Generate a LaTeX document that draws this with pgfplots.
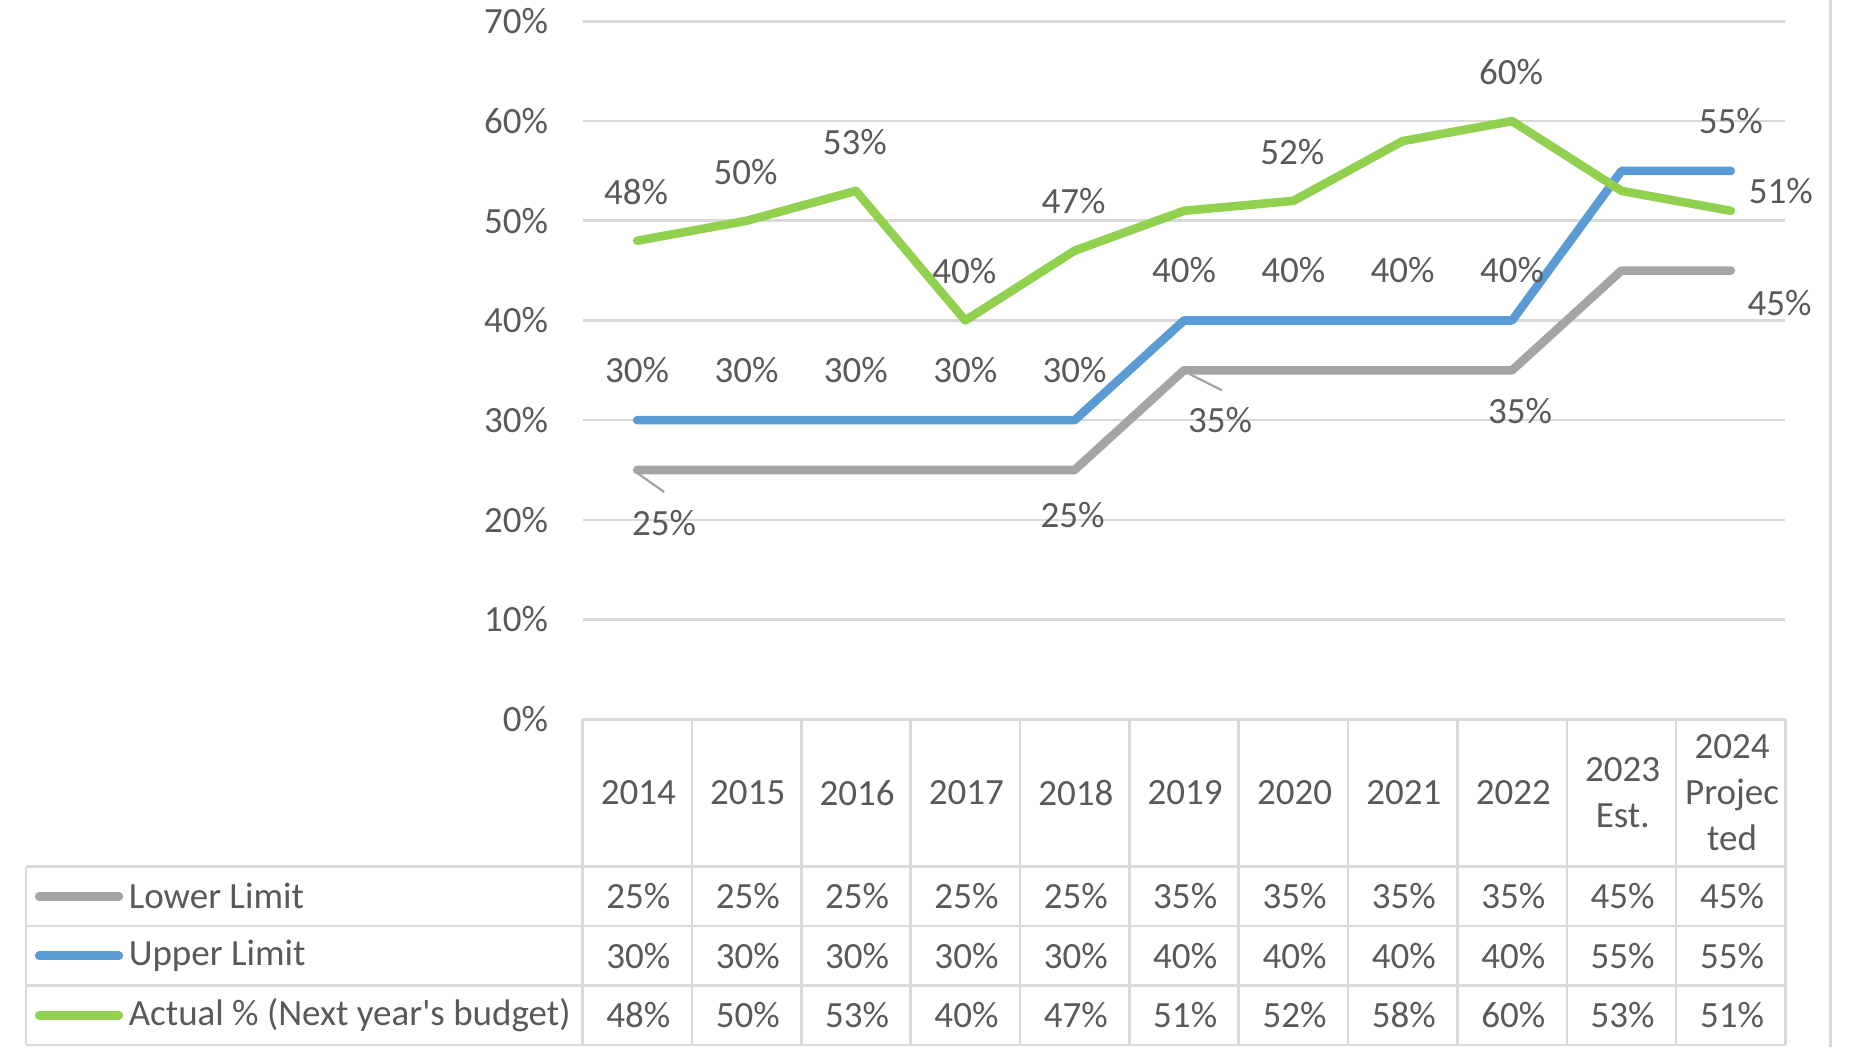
\documentclass[border=0pt]{standalone}
\usepackage{pgfplots}
\pgfplotsset{compat=1.18}
\usepackage{fontspec}
\setmainfont{Carlito}
\definecolor{txt}{HTML}{595959}
\definecolor{gridc}{HTML}{D9D9D9}
\definecolor{lowc}{HTML}{A5A5A5}
\definecolor{upc}{HTML}{5B9BD5}
\definecolor{actc}{HTML}{92D050}
\newcommand{\fs}{\fontsize{18.5}{22.9}\selectfont}
\begin{document}
\begin{tikzpicture}
\pgfplotsset{
  lbl/.style={draw=none, mark=none, forget plot, point meta=y,
    nodes near coords={\pgfmathprintnumber{\pgfplotspointmeta}\%},
    nodes near coords align={anchor=center},
    every node near coord/.style={font=\fs, text=txt, anchor=center, inner sep=0pt, #1}},
  serie/.style={line width=4.3pt, line cap=round, line join=round, mark=none},
}
\begin{axis}[
  at={(0pt,0pt)}, anchor=south west,
  scale only axis, width=601.5pt, height=348.9pt,
  xmin=-0.5, xmax=10.5, ymin=0, ymax=70,
  xtick=\empty,
  ytick={0,10,...,70},
  yticklabels={0\%,10\%,20\%,30\%,40\%,50\%,60\%,70\%},
  yticklabel style={font=\fs, text=txt, anchor=east, inner sep=0pt, xshift=-17pt},
  major tick length=0pt,
  axis line style={draw=none},
  ymajorgrids, grid style={gridc, line width=1.3pt},
  clip=false,
  /pgf/number format/assume math mode=true,
]
\addplot[serie, lowc] coordinates {(0,25)(1,25)(2,25)(3,25)(4,25)(5,35)(6,35)(7,35)(8,35)(9,45)(10,45)};
\addplot[serie, upc] coordinates {(0,30)(1,30)(2,30)(3,30)(4,30)(5,40)(6,40)(7,40)(8,40)(9,55)(10,55)};
\addplot[serie, actc] coordinates {(0,48)(1,50)(2,53)(3,40)(4,47)(5,51)(6,52)(7,58)(8,60)(9,53)(10,51)};
% labels: actual
\addplot[lbl={xshift=-0.5pt, yshift=24.6pt}] coordinates {(0,48)(1,50)(2,53)(3,40)(4,47)(6,52)(8,60)};
\addplot[lbl={xshift=25pt, yshift=10.1pt}] coordinates {(10,51)};
% labels: upper
\addplot[lbl={xshift=0pt, yshift=25pt}] coordinates {(0,30)(1,30)(2,30)(3,30)(4,30)(5,40)(6,40)(7,40)(8,40)(10,55)};
% labels: lower
\addplot[lbl={xshift=13.5pt, yshift=-26.7pt}] coordinates {(0,25)};
\addplot[lbl={xshift=-1pt, yshift=-22.6pt}] coordinates {(4,25)};
\addplot[lbl={xshift=18pt, yshift=-25pt}] coordinates {(5,35)};
\addplot[lbl={xshift=4pt, yshift=-20.5pt}] coordinates {(8,35)};
\addplot[lbl={xshift=24.4pt, yshift=-16.3pt}] coordinates {(10,45)};
% leader lines
\draw[lowc, line width=1.1pt] ([shift={(0pt,-1.5pt)}]axis cs:0,25) -- ([shift={(13.5pt,-11pt)}]axis cs:0,25);
\draw[lowc, line width=1.1pt] ([shift={(3pt,-2pt)}]axis cs:5,35) -- ([shift={(19pt,-10pt)}]axis cs:5,35);
\end{axis}
\begin{scope}[x=0.5944pt, y=-0.5944pt, shift={(-291.26pt,359.61pt)}]
  \path[use as bounding box] (0,0) rectangle (1568,881);
  \begin{scope}[gridc, line width=1.3pt]
    \draw (490,605) -- (1502,605);
    \foreach \y in {729,779,829,879} \draw (22,\y) -- (1502,\y);
    \draw (22,729) -- (22,879);
    \foreach \k in {0,...,11} \draw ({490+92*\k},605) -- ({490+92*\k},879);
    \draw (1540,0) -- (1540,881);
  \end{scope}
  \begin{scope}[every node/.style={font=\fs, text=txt, inner sep=0pt, align=center}]
    \foreach \lab [count=\i from 0] in {2014,2015,2016,2017,2018,2019,2020,2021,2022}
      \node at ({537+92*\i},667) {\lab};
    \node at ({537+92*9},667) {2023\\Est.};
    \node at ({537+92*10},667) {2024\\Projec\\ted};
    \foreach \v [count=\i from 0] in {25,25,25,25,25,35,35,35,35,45,45}
      \node at ({537+92*\i},754) {\v\%};
    \foreach \v [count=\i from 0] in {30,30,30,30,30,40,40,40,40,55,55}
      \node at ({537+92*\i},804) {\v\%};
    \foreach \v [count=\i from 0] in {48,50,53,40,47,51,52,58,60,53,51}
      \node at ({537+92*\i},854) {\v\%};
    \node[anchor=west] at (108,754) {Lower Limit};
    \node[anchor=west] at (108,804) {Upper Limit};
    \node[anchor=west] at (108,854) {Actual \% (Next year\textquotesingle s budget)};
  \end{scope}
  \draw[lowc, line width=4.3pt, line cap=round] (33,754) -- (100,754);
  \draw[upc, line width=4.3pt, line cap=round] (33,804) -- (100,804);
  \draw[actc, line width=4.3pt, line cap=round] (33,854) -- (100,854);
\end{scope}
\end{tikzpicture}
\end{document}
